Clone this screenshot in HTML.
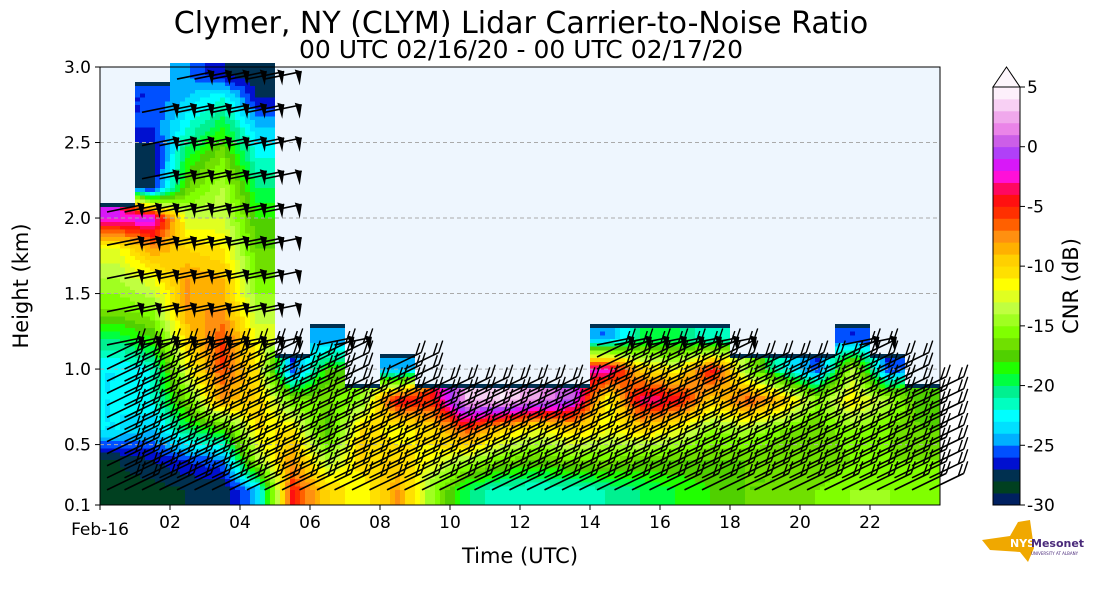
<!DOCTYPE html>
<html><head><meta charset="utf-8"><style>
body{margin:0;background:#fff;width:1093px;height:600px;overflow:hidden;font-family:"Liberation Sans","DejaVu Sans",sans-serif}
</style></head><body>
<svg id="chart" width="1093" height="600" xmlns="http://www.w3.org/2000/svg" font-family="DejaVu Sans, Liberation Sans, sans-serif">
<text x="521" y="33" font-size="30" text-anchor="middle">Clymer, NY (CLYM) Lidar Carrier-to-Noise Ratio</text>
<text x="521" y="58" font-size="25" text-anchor="middle">00 UTC 02/16/20 - 00 UTC 02/17/20</text>
<rect x="100" y="67" width="840" height="438" fill="#eef6fe"/>
<g id="cells" shape-rendering="crispEdges"></g>
<g id="grid"></g>
<g id="barbs"></g>
<rect x="100" y="67" width="840" height="438" fill="none" stroke="#000" stroke-width="1"/>
<g id="yaxis"></g>
<g id="xaxis"></g>
<text transform="translate(28,286) rotate(-90)" font-size="21" text-anchor="middle">Height (km)</text>
<text x="520" y="563" font-size="21" text-anchor="middle">Time (UTC)</text>
<g id="cbar"></g>
<text transform="translate(1078,286) rotate(-90)" font-size="21" text-anchor="middle">CNR (dB)</text>
<g>
<path d="M982 540 L1010 536 L1018 522 L1030 520 L1034 548 L1028 562 L1020 552 L990 550 Z" fill="#f0a800"/>
<text x="1010" y="547" font-size="11" font-weight="bold" fill="#fff">NYS</text>
<text x="1031" y="547" font-size="11" font-weight="bold" fill="#4a2a7a">Mesonet</text>
<text x="1031" y="555" font-size="4" fill="#4a2a7a">UNIVERSITY AT ALBANY</text>
</g>
</svg>
<script>
const hours=[0,1,2,3,4,5,6,7,8,9,10,11,12,13,14,15,16,17,18,19,20,21,22,23];
const rowEdges=[0.1,0.3,0.5,0.7,0.9,1.1,1.3,1.5,1.7,1.9,2.1,2.3,2.5,2.7,2.9,3.0];
const n=null;
const cnr=[
[-28.5,-28,-23,-23,-23,-20,-16,-14,-12,-2,n,n,n,n,n],
[-28.5,-27,-24,-22,-22,-18,-15,-12,-8,-1,-27,-28,-26,-26,n],
[-28,-26,-20,-16,-12,-10,-8,-8,-10,-13,-17,-19,-22,-24,-25],
[-28,-25,-18,-8,-6,-6,-8,-9,-11,-13,-14,-16,-19,-22,-27],
[-24,-14,-11,-10,-11,-12,-14,-16,-17,-18,-20,-22,-24,-27,-28],
[-5,-8,-11,-16,-26,n,n,n,n,n,n,n,n,n,n],
[-10,-14,-18,-16,-18,-25,n,n,n,n,n,n,n,n,n],
[-12,-10,-10,-15,n,n,n,n,n,n,n,n,n,n,n],
[-8,-10,-12,-4,-25,n,n,n,n,n,n,n,n,n,n],
[-15,-12,-10,-5,n,n,n,n,n,n,n,n,n,n,n],
[-20,-14,-6,3,n,n,n,n,n,n,n,n,n,n,n],
[-22,-16,-10,4,n,n,n,n,n,n,n,n,n,n,n],
[-22,-17,-12,2,n,n,n,n,n,n,n,n,n,n,n],
[-22,-16,-10,0,n,n,n,n,n,n,n,n,n,n,n],
[-21,-16,-12,-12,-2,-25,n,n,n,n,n,n,n,n,n],
[-20,-17,-10,-3,-10,-20,n,n,n,n,n,n,n,n,n],
[-19,-17,-12,-4,-12,-20,n,n,n,n,n,n,n,n,n],
[-18,-17,-15,-10,-4,-22,n,n,n,n,n,n,n,n,n],
[-17,-17,-14,-6,-15,n,n,n,n,n,n,n,n,n,n],
[-17,-17,-16,-9,-22,n,n,n,n,n,n,n,n,n,n],
[-16,-17,-17,-15,-26,n,n,n,n,n,n,n,n,n,n],
[-15,-16,-15,-11,-14,-26,n,n,n,n,n,n,n,n,n],
[-15,-16,-16,-14,-26,n,n,n,n,n,n,n,n,n,n],
[-16,-16,-17,-18,n,n,n,n,n,n,n,n,n,n,n]];
const yTicks=[0.1,0.5,1.0,1.5,2.0,2.5,3.0];
const yTickLabels=["0.1","0.5","1.0","1.5","2.0","2.5","3.0"];
const xTicks=[0,2,4,6,8,10,12,14,16,18,20,22];
const xTickLabels=["Feb-16","02","04","06","08","10","12","14","16","18","20","22"];
const cbTicks=[5,0,-5,-10,-15,-20,-25,-30];
const palette=["#002060","#004020","#003050","#0010d0","#0050ff","#00b0ff","#00e0ff","#00ffff","#00ffc0","#00f090","#00ff40","#20ff00","#50d000","#70e000","#80ff00","#a0ff20","#c0ff40","#e0ff20","#ffff00","#ffe000","#ffd000","#ffb000","#ff9010","#ff6000","#ff3000","#ff1010","#ff0860","#ff10d8","#d818f8","#b040f8","#cc5ee8","#ea84e8","#f0a8ec","#f8d0f4","#fdf0fb"];
const NS="http://www.w3.org/2000/svg";
const X=h=>100+h*35, Y=km=>505-(km-0.1)*(438/2.9), CB=v=>505-(v+30)*(418/35);
function col(v){let i=Math.floor(v+30);i=Math.max(0,Math.min(34,i));return palette[i];}
function mk(t,a,p){const e=document.createElementNS(NS,t);for(const k in a)e.setAttribute(k,a[k]);p.appendChild(e);return e;}
function rowOf(km){for(let r=0;r<rowEdges.length-1;r++)if(km<rowEdges[r+1])return r;return rowEdges.length-2;}
function get(i,r){if(i<0||i>=cnr.length||r<0||r>=cnr[0].length)return null;return cnr[i][r];}
const rc=[];for(let k=0;k<rowEdges.length-1;k++)rc.push((rowEdges[k]+rowEdges[k+1])/2);
function sample(h,km){const i=Math.floor(h),r=rowOf(km);const base=get(i,r);if(base===null)return null;
if(get(i,r+1)===null&&km>rowEdges[r+1]-0.035&&r<rc.length-1)return -27.5;
const fi=h-0.5; let i0=Math.floor(fi), ti=fi-i0;
let r0=r; if(km<rc[r])r0=r-1; let r1=r0+1; let tr;
if(r0<0){r0=0;r1=0;tr=0;}else if(r1>=rc.length){r1=r0;tr=0;}else tr=(km-rc[r0])/(rc[r1]-rc[r0]);
let s=0,w=0;[[i0,r0,(1-ti)*(1-tr)],[i0+1,r0,ti*(1-tr)],[i0,r1,(1-ti)*tr],[i0+1,r1,ti*tr]].forEach(([a,b,ww])=>{const v=get(a,b);if(v!==null&&ww>0){s+=v*ww;w+=ww;}});
return w>0?s/w:base;}
const cells=document.getElementById('cells');
const dx=5,dkm=0.025;
for(let x=100;x<940;x+=dx){for(let km=0.1;km<3.0;km+=dkm){const v=sample((x+dx/2-100)/35,km+dkm/2);if(v===null)continue;
const e=mk('rect',{x:x,y:Y(km+dkm),width:dx,height:Y(km)-Y(km+dkm)+0.3,fill:col(v)},cells);

}}
const grid=document.getElementById('grid');
[0.5,1.0,1.5,2.0,2.5].forEach(k=>{const e=mk('line',{x1:100,x2:940,y1:Y(k),y2:Y(k),stroke:'#aaa','stroke-dasharray':'4,3','stroke-width':1},grid);

});
const barbs=document.getElementById('barbs');
hours.forEach((h,i)=>{for(let s=0;s<2;s++){let top=0;cnr[i].forEach((v,r)=>{if(v!==null)top=r;});
for(let km=0.2;km<=rowEdges[top+1]-0.05;km+=(km<1.1?0.08:0.22)){const x0=X(h+s*0.5+0.2),y0=Y(km);
const ang=km<1.1?-0.45:-0.2;const L=38;const x1=x0+L*Math.cos(ang),y1=y0+L*Math.sin(ang);
const g=mk('g',{},barbs);


mk('line',{x1:x0,y1:y0,x2:x1,y2:y1,stroke:'#000','stroke-width':1.6},g);
if(km>1.1){mk('polygon',{points:`${x1},${y1} ${x1-7},${y1-2} ${x1-2},${y1+14}`,fill:'#000'},g);}
else{for(let b=0;b<2;b++){const bx=x1-b*6*Math.cos(ang),by=y1-b*6*Math.sin(ang);mk('line',{x1:bx,y1:by,x2:bx+4,y2:by-12,stroke:'#000','stroke-width':1.4},g);}}
}}});
const ya=document.getElementById('yaxis');
yTicks.forEach((t,i)=>{mk('line',{x1:95,x2:100,y1:Y(t),y2:Y(t),stroke:'#000'},ya);
const e=mk('text',{x:91,y:Y(t)+6,'font-size':17,'text-anchor':'end'},ya);e.textContent=yTickLabels[i];

});
const xa=document.getElementById('xaxis');
xTicks.forEach((t,i)=>{mk('line',{x1:X(t),x2:X(t),y1:505,y2:510,stroke:'#000'},xa);
const e=mk('text',{x:X(t),y:i==0?535:528,'font-size':17,'text-anchor':'middle'},xa);e.textContent=xTickLabels[i];

});
const cb=document.getElementById('cbar');
palette.forEach((c,i)=>{const v=-30+i;mk('rect',{x:993,y:CB(v+1),width:27,height:CB(v)-CB(v+1)+0.4,fill:c},cb);});
mk('polygon',{points:`993,${CB(5)} 1006.5,67 1020,${CB(5)}`,fill:'#fdf6fc',stroke:'#000'},cb);
mk('rect',{x:993,y:CB(5),width:27,height:CB(-30)-CB(5),fill:'none',stroke:'#000'},cb);
cbTicks.forEach(t=>{mk('line',{x1:1020,x2:1025,y1:CB(t),y2:CB(t),stroke:'#000'},cb);
const e=mk('text',{x:1027,y:CB(t)+6,'font-size':17},cb);e.textContent=String(t);

});
</script>
</body></html>
